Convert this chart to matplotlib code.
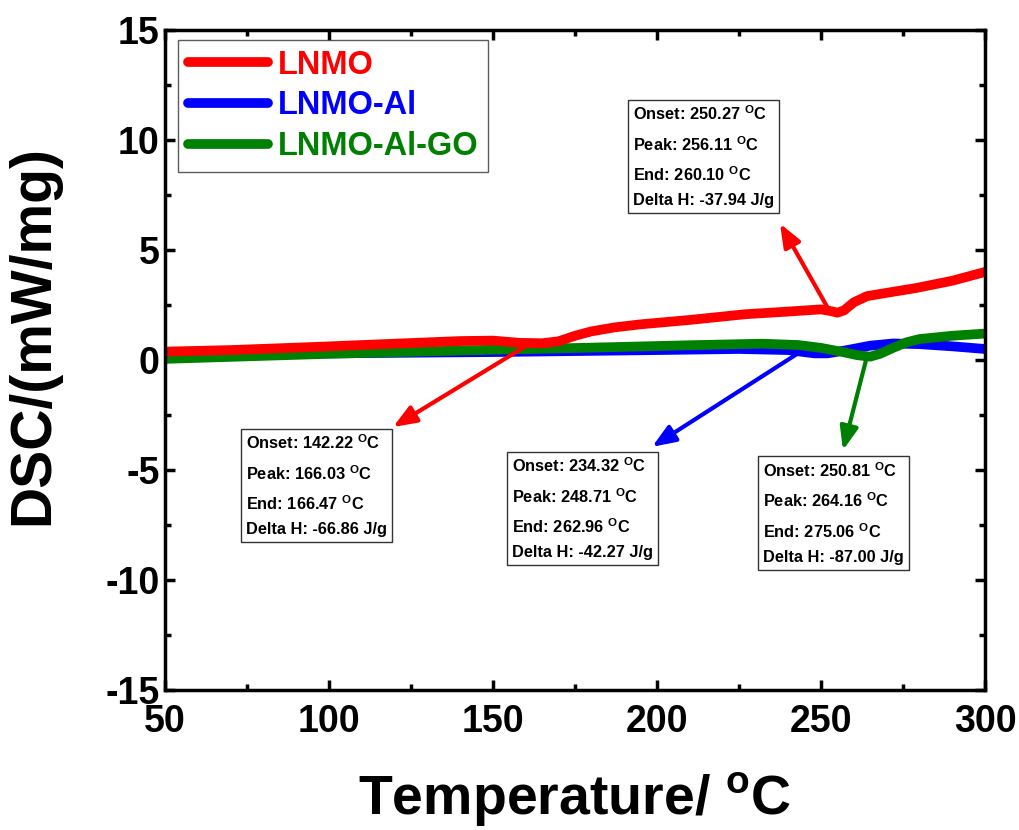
import matplotlib
matplotlib.use("Agg")
import matplotlib.pyplot as plt
from matplotlib.ticker import MultipleLocator

plt.rcParams['font.family'] = ['Liberation Sans', 'DejaVu Sans']
plt.rcParams['font.weight'] = 'bold'
plt.rcParams['axes.unicode_minus'] = False
plt.rcParams['mathtext.fontset'] = 'custom'
plt.rcParams['mathtext.rm'] = 'Liberation Sans:bold'
plt.rcParams['mathtext.bf'] = 'Liberation Sans:bold'

# DSC traces (temperature in degC, heat flow in mW/mg)
t_lnmo = [50, 70, 97, 120, 140, 150, 158, 165, 170, 175, 180, 187, 195, 210, 227,
          240, 250, 253, 255, 257, 260, 264, 270, 279, 290, 300]
dsc_lnmo = [0.38, 0.45, 0.60, 0.74, 0.86, 0.88, 0.78, 0.76, 0.85, 1.10, 1.30, 1.48,
            1.62, 1.82, 2.08, 2.20, 2.30, 2.22, 2.15, 2.25, 2.62, 2.90, 3.05, 3.27,
            3.60, 4.00]

t_al = [50, 100, 150, 200, 225, 240, 248, 252, 258, 265, 272, 280, 290, 300]
dsc_al = [0.22, 0.30, 0.36, 0.45, 0.50, 0.45, 0.30, 0.30, 0.45, 0.65, 0.75, 0.72,
          0.62, 0.50]

t_go = [50, 100, 146, 180, 210, 232, 243, 250, 256, 261, 265, 268, 272, 276, 280,
        290, 300]
dsc_go = [0.05, 0.28, 0.45, 0.56, 0.67, 0.74, 0.68, 0.55, 0.38, 0.22, 0.15, 0.28,
          0.55, 0.80, 0.95, 1.10, 1.20]

labels = ['LNMO', 'LNMO-Al', 'LNMO-Al-GO']
colors = ['#ff0000', '#0000ff', '#008000']

# Peak annotations: text, text anchor (T, DSC), arrow start on curve, arrow tip
notes = [
    ("Onset: 250.27 $^{\\mathbf{O}}$C\nPeak: 256.11 $^{\\mathbf{O}}$C\n"
     "End: 260.10 $^{\\mathbf{O}}$C\nDelta H: -37.94 J/g",
     (192.7, 11.6), (252.7, 2.2), (237.5, 6.2), colors[0]),
    ("Onset: 142.22 $^{\\mathbf{O}}$C\nPeak: 166.03 $^{\\mathbf{O}}$C\n"
     "End: 166.47 $^{\\mathbf{O}}$C\nDelta H: -66.86 J/g",
     (74.7, -3.35), (161.3, 0.75), (119.5, -3.05), colors[0]),
    ("Onset: 234.32 $^{\\mathbf{O}}$C\nPeak: 248.71 $^{\\mathbf{O}}$C\n"
     "End: 262.96 $^{\\mathbf{O}}$C\nDelta H: -42.27 J/g",
     (155.8, -4.4), (243.6, 0.36), (198.5, -3.95), colors[1]),
    ("Onset: 250.81 $^{\\mathbf{O}}$C\nPeak: 264.16 $^{\\mathbf{O}}$C\n"
     "End: 275.06 $^{\\mathbf{O}}$C\nDelta H: -87.00 J/g",
     (232.3, -4.6), (264.0, 0.15), (256.7, -4.1), colors[2]),
]

fig = plt.figure(figsize=(10.19, 8.30), dpi=100)
ax = fig.add_axes([0.162, 0.1687, 0.8046, 0.7952])

l_al, = ax.plot(t_al, dsc_al, color=colors[1], lw=7, solid_capstyle='round',
                label=labels[1])
l_go, = ax.plot(t_go, dsc_go, color=colors[2], lw=7, solid_capstyle='round',
                label=labels[2])
l_lnmo, = ax.plot(t_lnmo, dsc_lnmo, color=colors[0], lw=7, solid_capstyle='round',
                  label=labels[0])

for text, pos, start, tip, c in notes:
    ax.annotate('', xy=tip, xytext=start,
                arrowprops=dict(arrowstyle='-|>,head_length=1.4,head_width=0.55',
                                color=c, lw=3, shrinkA=0, shrinkB=0))
    ax.text(pos[0], pos[1], text, fontsize=11.8, fontweight='bold', ha='left',
            va='top', linespacing=1.75,
            bbox=dict(boxstyle='square,pad=0.3', fc='white', ec='#333333', lw=1))

ax.set_xlim(50, 300)
ax.set_ylim(-15, 15)
ax.xaxis.set_major_locator(MultipleLocator(50))
ax.xaxis.set_minor_locator(MultipleLocator(25))
ax.yaxis.set_major_locator(MultipleLocator(5))
ax.yaxis.set_minor_locator(MultipleLocator(2.5))
ax.tick_params(which='both', direction='in', top=True, right=True, width=2.5,
               labelsize=27)
ax.tick_params(axis='x', which='major', pad=10)
ax.tick_params(axis='y', which='major', pad=4)
ax.tick_params(which='major', length=7)
ax.tick_params(which='minor', length=4)
for lab in ax.get_xticklabels() + ax.get_yticklabels():
    lab.set_fontweight('bold')
for s in ax.spines.values():
    s.set_linewidth(2.5)

ax.set_xlabel('Temperature/ $^{\\mathbf{o}}$C', fontsize=40, fontweight='bold',
              labelpad=22)
ax.set_ylabel('DSC/(mW/mg)', fontsize=41, fontweight='bold')
ax.yaxis.set_label_coords(-0.128, 0.538)

leg = ax.legend(handles=[l_lnmo, l_al, l_go], loc='upper left',
                bbox_to_anchor=(0.016, 0.985), borderaxespad=0, fontsize=23.5,
                frameon=True, fancybox=False, edgecolor='#333333',
                handlelength=2.45, handletextpad=0.3, labelspacing=0.3,
                borderpad=0.3)
leg.get_frame().set_linewidth(1)
for txt, c in zip(leg.get_texts(), [colors[0], colors[1], colors[2]]):
    txt.set_color(c)
    txt.set_fontweight('bold')

fig.savefig('out.png', dpi=100)
